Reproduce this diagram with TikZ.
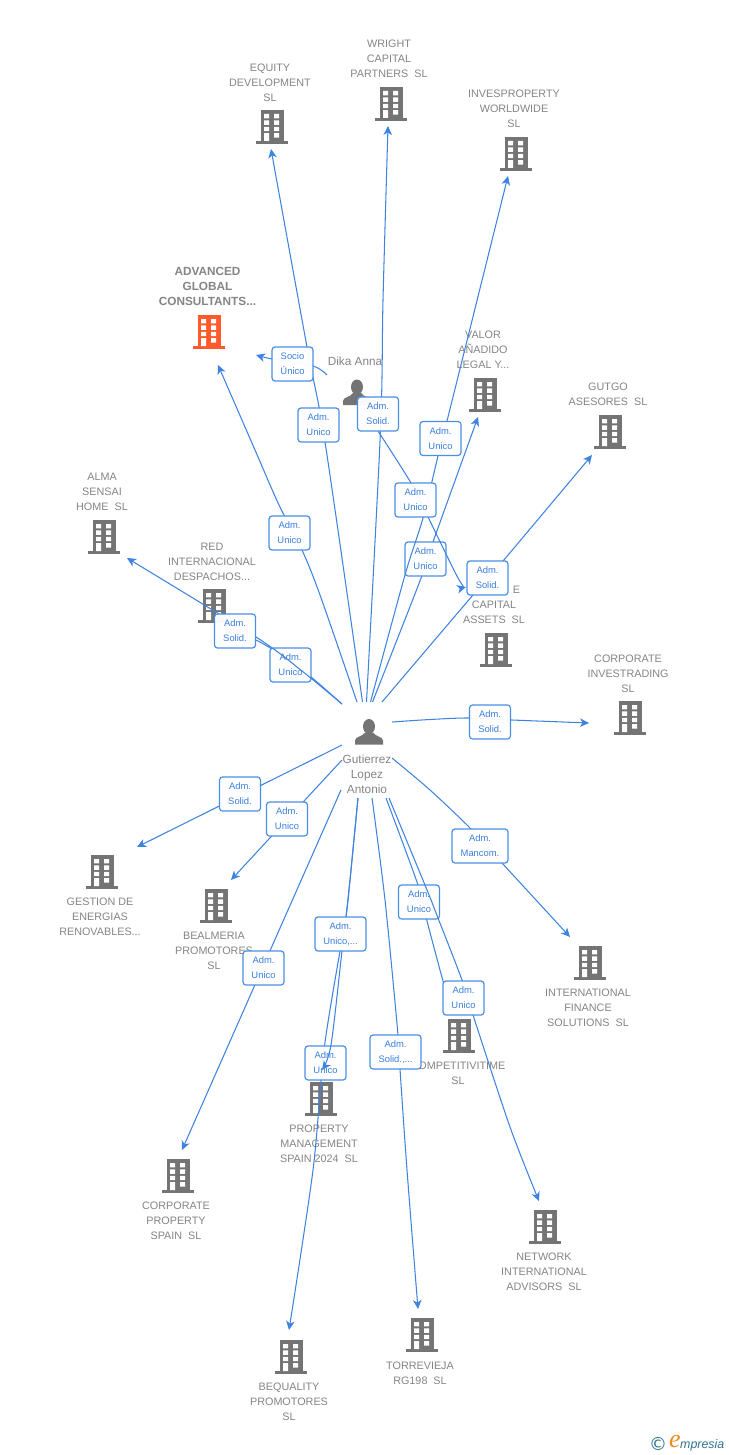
\documentclass[tikz,border=0pt]{standalone}
\usepackage{fontspec}
\setmainfont{Liberation Sans}
\newfontfamily\logoserif{Liberation Serif}
\newfontfamily\symfont{DejaVu Sans}
\usetikzlibrary{arrows.meta}
\definecolor{edgeblue}{HTML}{3F83E0}
\definecolor{boxblue}{HTML}{4A8FE6}
\definecolor{boxtext}{HTML}{3A7FDD}
\definecolor{iconblack}{HTML}{747474}
\definecolor{labelgray}{HTML}{858585}
\definecolor{hotorange}{HTML}{FF5A2B}
\definecolor{logoteal}{HTML}{2E7391}
\definecolor{logoorange}{HTML}{F08A1D}
\tikzset{
  edge/.style={draw=edgeblue,line width=1.05pt,line join=round},
  arrowed/.style={edge,-{Stealth[length=9pt,width=8.5pt,inset=2.6pt]}},
  relbox/.style={draw=boxblue,line width=1.2pt,rounded corners=3pt,fill=white,fill opacity=.96,text opacity=1,
    minimum width=41pt,minimum height=34pt,inner sep=0pt,align=center,text=boxtext,font=\fontsize{9.4}{15}\selectfont},
  wideA/.style={minimum width=51pt},
  wideB/.style={minimum width=56pt},
  lab/.style={align=center,text=labelgray,font=\fontsize{10.8}{15}\selectfont,inner sep=0pt,yshift=-.7pt},
  labbold/.style={align=center,text=labelgray,font=\fontsize{11.8}{15}\selectfont\bfseries,inner sep=0pt},
  perslab/.style={align=center,text=labelgray,font=\fontsize{11.8}{15}\selectfont,inner sep=0pt},
  curve/.style={smooth,tension=.5}
}
\newcommand{\bld}[4]{% name, centre x, top y, colour
  \node[minimum width=32pt,minimum height=34pt,inner sep=0pt] (#1) at (#2,#3+17) {};
  \begin{scope}[shift={(#2,#3)}]
    \fill[#4] (-11.5,0) rectangle (11.5,31);
    \fill[#4] (-16,31) rectangle (16,34);
    \fill[white] (-8,4) rectangle (-3,8.4) (2,4) rectangle (7,8.4)
                 (-8,10.4) rectangle (-3,14.8) (2,10.4) rectangle (7,14.8)
                 (-8,16.8) rectangle (-3,21.2) (2,16.8) rectangle (7,21.2)
                 (-8,23.2) rectangle (-3,31) (2,23.2) rectangle (7,27.6);
  \end{scope}}
\newcommand{\pers}[3]{% name, head x, head y
  \node[minimum width=28pt,minimum height=28pt,inner sep=0pt] (#1) at (#2,#3+4) {};
  \begin{scope}[shift={(#2,#3)}]
    \fill[iconblack] (0,0) ellipse (6pt and 7.5pt);
    \fill[iconblack] (-14,18) -- (-14,14) .. controls (-14,10) and (-6,10) .. (-4,6) -- (4,6)
       .. controls (6,10) and (14,10) .. (14,14) -- (14,18) -- cycle;
  \end{scope}}
\begin{document}
\begin{tikzpicture}[x=1pt,y=-1pt]
\path[use as bounding box,fill=white] (0,0) rectangle (728,1455);

% company labels
\node[lab] (tEquity) at (270,82) {EQUITY\\DEVELOPMENT\\SL};
\node[lab] (tWright) at (389,58) {WRIGHT\\CAPITAL\\PARTNERS\ \ SL};
\node[lab] (tInves) at (514,108) {INVESPROPERTY\\WORLDWIDE\\SL};
\node[labbold] (tAdv) at (207.5,286) {ADVANCED\\GLOBAL\\CONSULTANTS...};
\node[lab] (tValor) at (483,349) {VALOR\\AÑADIDO\\LEGAL Y...};
\node[lab] (tGutgo) at (608,393.5) {GUTGO\\ASESORES\ \ SL};
\node[lab] (tAlma) at (102,491) {ALMA\\SENSAI\\HOME\ \ SL};
\node[lab] (tRed) at (212,561) {RED\\INTERNACIONAL\\DESPACHOS...};
\node[lab] (tCap) at (494,604) {\phantom{MMMMM}E\\CAPITAL\\ASSETS\ \ SL};
\node[lab] (tInvest) at (628,673) {CORPORATE\\INVESTRADING\\SL};
\node[lab] (tGest) at (100,916) {GESTION DE\\ENERGIAS\\RENOVABLES...};
\node[lab] (tBeal) at (214,950) {BEALMERIA\\PROMOTORES\\SL};
\node[lab] (tIntl) at (588,1007) {INTERNATIONAL\\FINANCE\\SOLUTIONS\ \ SL};
\node[lab] (tComp) at (458,1072.5) {COMPETITIVITIME\\SL};
\node[lab] (tProp) at (319,1143) {PROPERTY\\MANAGEMENT\\SPAIN 2024\ \ SL};
\node[lab] (tCorp) at (176,1220) {CORPORATE\\PROPERTY\\SPAIN\ \ SL};
\node[lab] (tNet) at (544,1271) {NETWORK\\INTERNATIONAL\\ADVISORS\ \ SL};
\node[lab] (tBeq) at (289,1401) {BEQUALITY\\PROMOTORES\\SL};
\node[lab] (tTor) at (420,1372.5) {TORREVIEJA\\RG198\ \ SL};

% buildings
\bld{bEquity}{272}{110}{iconblack}
\bld{bWright}{391}{87}{iconblack}
\bld{bInves}{516}{137}{iconblack}
\bld{bAdv}{209}{315}{hotorange}
\bld{bValor}{485}{378}{iconblack}
\bld{bGutgo}{610}{415}{iconblack}
\bld{bAlma}{104}{520}{iconblack}
\bld{bRed}{214}{589}{iconblack}
\bld{bCap}{496}{633}{iconblack}
\bld{bInvest}{630}{701}{iconblack}
\bld{bGest}{102}{855}{iconblack}
\bld{bBeal}{216}{889}{iconblack}
\bld{bIntl}{590}{946}{iconblack}
\bld{bComp}{459}{1019}{iconblack}
\bld{bProp}{321}{1082}{iconblack}
\bld{bCorp}{178}{1159}{iconblack}
\bld{bNet}{545}{1210}{iconblack}
\bld{bBeq}{291}{1340}{iconblack}
\bld{bTor}{422}{1318}{iconblack}

% people
\pers{dika}{357}{387}
\pers{guti}{369}{726.5}
\node[perslab] (tDika) at (355,361) {Dika Anna};
\node[perslab] (tGuti) at (367,774) {Gutierrez\\Lopez\\Antonio};

% free ends of connectors
\coordinate (dS1) at (327,375);  \coordinate (dT1) at (256,355);
\coordinate (dS2) at (378,431);  \coordinate (dT2) at (466,587);
\coordinate (gEq) at (362.5,702);  \coordinate (tipEq) at (271,149);
\coordinate (gWr) at (366.5,702);  \coordinate (tipWr) at (388,126);
\coordinate (gIn) at (370.5,702);  \coordinate (tipIn) at (508,176);
\coordinate (gVa) at (372.5,702);  \coordinate (tipVa) at (478,417);
\coordinate (gGu) at (382,702);  \coordinate (tipGu) at (592,455);
\coordinate (gAd) at (357,702);  \coordinate (tipAd) at (218,365);
\coordinate (gAl) at (342,704);  \coordinate (tipAl) at (127,558);
\coordinate (gRe) at (342,704);  \coordinate (tipRe) at (225,630);
\coordinate (gCi) at (392,722);  \coordinate (tipCi) at (589,723);
\coordinate (gGe) at (342,745);  \coordinate (tipGe) at (137,847);
\coordinate (gBe) at (342,760);  \coordinate (tipBe) at (231,880);
\coordinate (gCo) at (341,790);  \coordinate (tipCo) at (182,1150);
\coordinate (gBq) at (358,798);  \coordinate (tipBq) at (289,1330);
\coordinate (gPr) at (358,798);  \coordinate (tipPr) at (322,1070);
\coordinate (gTo) at (372,798);  \coordinate (tipTo) at (418,1309);
\coordinate (gCm) at (386,798);  \coordinate (tipCm) at (452,1010);
\coordinate (gNe) at (389,798);  \coordinate (tipNe) at (539,1201);
\coordinate (gIf) at (392,758);  \coordinate (tipIf) at (570,937);

% RED + ALMA
\draw[arrowed] plot[curve] coordinates {(gRe) (300,668) (258,641) (tipRe)};
\node[relbox] (rRe) at (290.5,665) {Adm.\\Unico};
\draw[arrowed] plot[curve] coordinates {(gAl) (302,671) (256,637) (tipAl)};
\node[relbox] (rAl) at (235,631) {Adm.\\Solid.};

% up edges
\draw[arrowed] plot[curve] coordinates {(gAd) (320,595) (302,550) (279,505) (255,450) (tipAd)};
\node[relbox] (rAd) at (289.5,533) {Adm.\\Unico};
\draw[arrowed] plot[curve] coordinates {(gEq) (325,442) (307,347) (tipEq)};
\node[relbox] (rEq) at (318.5,425) {Adm.\\Unico};
\draw[arrowed] plot[curve] coordinates {(dS1) (313,366) (272,359) (dT1)};
\node[relbox] (rD1) at (292.5,364) {Socio\\Único};
\draw[arrowed] plot[curve] coordinates {(gWr) (380.5,430) (383,300) (tipWr)};
\draw[arrowed] plot[curve] coordinates {(gVa) (421.5,577) (433,542) (tipVa)};
\node[relbox] (rVa) at (425.5,559) {Adm.\\Unico};
\draw[arrowed] plot[curve] coordinates {(gIn) (405,575) (423,518) (438,456) (447,421) (tipIn)};
\node[relbox] (rIn2) at (440.5,438.5) {Adm.\\Unico};
\draw[arrowed] plot[curve] coordinates {(dS2) (411,483) (428,517) (458,578) (dT2)};
\node[relbox] (rIn) at (415.5,500) {Adm.\\Unico};
\node[relbox] (rD2) at (378,414) {Adm.\\Solid.};
\draw[arrowed] plot[curve] coordinates {(gGu) (473,595) (503,561) (tipGu)};
\node[relbox] (rGu) at (487.5,578) {Adm.\\Solid.};

% right
\draw[arrowed] plot[curve] coordinates {(gCi) (430,719.5) (468,718) (512,720) (tipCi)};
\node[relbox] (rCi) at (490,722) {Adm.\\Solid.};
\draw[arrowed] plot[curve] coordinates {(gIf) (430,790) (470,828) (502,863) (tipIf)};
\node[relbox,wideB] (rIf) at (480,846) {Adm.\\Mancom.};

% lower left
\draw[arrowed] (gGe) -- (tipGe);
\node[relbox] (rGe) at (240,794) {Adm.\\Solid.};
\draw[arrowed] (gBe) -- (tipBe);
\node[relbox] (rBe) at (287,819) {Adm.\\Unico};
\draw[arrowed] (gCo) -- (tipCo);
\node[relbox] (rCo) at (263.5,968) {Adm.\\Unico};

% lower middle
\draw[arrowed] plot[curve] coordinates {(gBq) (350,880) (346,917) (340,951) (324,1050) (313,1170) (tipBq)};
\node[relbox] (rPr) at (325.5,1063) {Adm.\\Unico};
\draw[arrowed] plot[curve] coordinates {(gPr) (350,880) (346,917) (342,951) (331,1045) (tipPr)};
\node[relbox,wideA] (rBq) at (340.5,934) {Adm.\\Unico,...};
\draw[arrowed] plot[curve] coordinates {(gTo) (385,900) (398,1035) (400,1069) (407,1170) (tipTo)};
\node[relbox,wideA] (rTo) at (395.5,1052) {Adm.\\Solid.,...};

% lower right
\draw[arrowed] plot[curve] coordinates {(gCm) (418,885) (427,921) (443,981) (tipCm)};
\node[relbox] (rCm) at (419,902) {Adm.\\Unico};
\draw[arrowed] plot[curve] coordinates {(gNe) (427,890) (438,918) (462,980) (473,1015) (510,1127) (tipNe)};
\node[relbox] (rNe) at (463.5,998) {Adm.\\Unico};

% logo
\node[text=logoteal,font=\symfont\fontsize{18}{18}\selectfont,inner sep=0pt] (logoC) at (658,1444) {©};
\node[text=logoorange,font=\logoserif\itshape\fontsize{26}{26}\selectfont,inner sep=0pt] (logoE) at (675,1441) {e};
\node[text=logoteal,font=\itshape\fontsize{12.4}{14}\selectfont,inner sep=0pt,anchor=west] (logoT) at (680,1445) {mpresia};
\end{tikzpicture}
\end{document}
